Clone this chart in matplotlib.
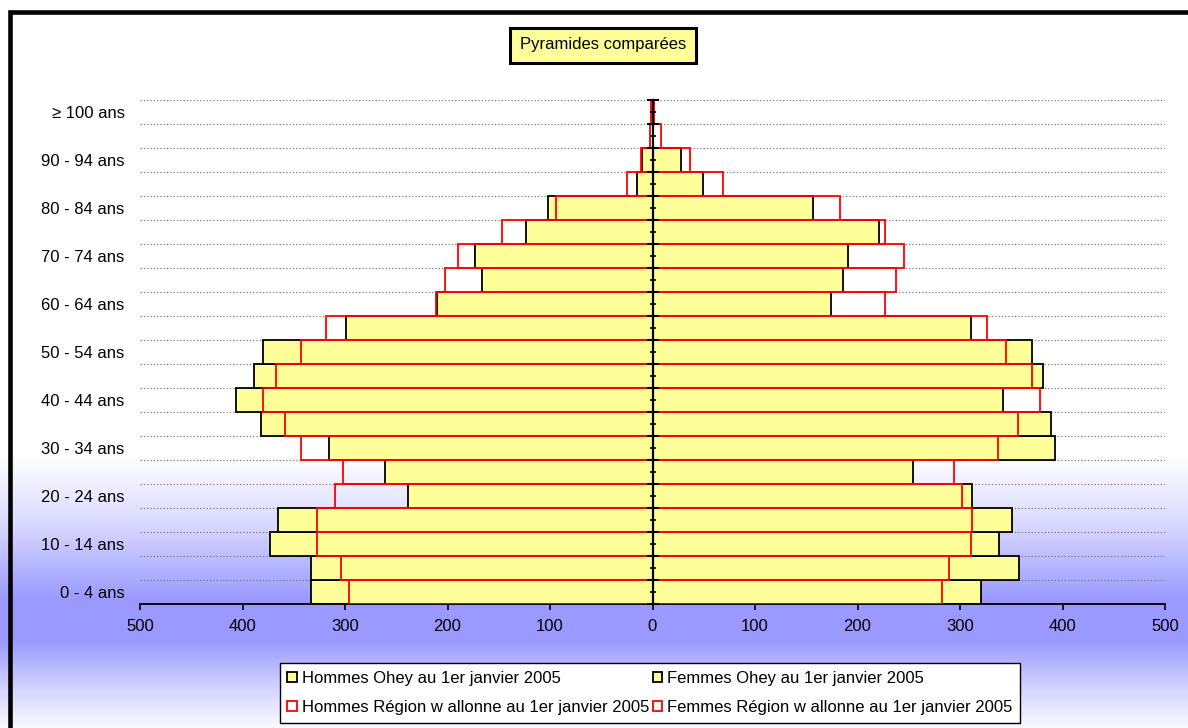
import numpy as np
import matplotlib
matplotlib.use("Agg")
import matplotlib.pyplot as plt
from matplotlib.patches import Rectangle

plt.rcParams['font.family'] = ['Liberation Sans', 'DejaVu Sans']

# --------- Données (du bas vers le haut) --------- #
ages = ["0 - 4 ans", "5 - 9 ans", "10 - 14 ans", "15 - 19 ans", "20 - 24 ans",
        "25 - 29 ans", "30 - 34 ans", "35 - 39 ans", "40 - 44 ans", "45 - 49 ans",
        "50 - 54 ans", "55 - 59 ans", "60 - 64 ans", "65 - 69 ans", "70 - 74 ans",
        "75 - 79 ans", "80 - 84 ans", "85 - 89 ans", "90 - 94 ans", "95 - 99 ans",
        "≥ 100 ans"]
hommes_ohey = [333, 333, 373, 365, 239, 261, 316, 382, 406, 389, 380, 299,
               210, 166, 173, 123, 102, 15, 10, 0, 0]
hommes_region = [296, 304, 327, 327, 310, 302, 343, 359, 380, 367, 343, 319,
                 211, 202, 190, 147, 94, 25, 11, 2, 1]
femmes_ohey = [320, 358, 338, 351, 312, 254, 393, 389, 342, 381, 370, 311,
               174, 186, 191, 221, 157, 49, 28, 0, 0]
femmes_region = [282, 289, 311, 312, 302, 294, 337, 357, 378, 370, 345, 326,
                 227, 238, 245, 227, 183, 69, 37, 8, 1]

lab_h_ohey = "Hommes Ohey au 1er janvier 2005"
lab_f_ohey = "Femmes Ohey au 1er janvier 2005"
lab_h_reg = "Hommes Région w allonne au 1er janvier 2005"
lab_f_reg = "Femmes Région w allonne au 1er janvier 2005"

W, H = 1188, 728
fig = plt.figure(figsize=(W / 100, H / 100), dpi=100)
fig.patch.set_facecolor('white')

# --------- Fond dégradé --------- #
bg = fig.add_axes([0, 0, 1, 1], zorder=-10)
rows = np.arange(H)
t = np.interp(rows, [0, 455, 520, 600, 640, 690, 728], [0, 0, 0.35, 1, 1, 0.4, 0.05])
blue = np.array([0.6, 0.6, 1.0])
grad = (1 - t)[:, None] * np.ones(3) + t[:, None] * blue
bg.imshow(np.repeat(grad[:, None, :], 2, axis=1), aspect='auto', extent=[0, 1, 0, 1])
bg.axis('off')

# --------- Cadre --------- #
fig.patches.append(Rectangle((9.7 / W, 1 - 1.2), 1.2, 1.2 - 11.7 / H, transform=fig.transFigure,
                             fill=False, ec='black', lw=3.3, clip_on=False))

# --------- Pyramide --------- #
ax = fig.add_axes([140 / W, 1 - 604 / H, 1025 / W, 504 / H])
ax.set_facecolor('none')
y = np.arange(len(ages))
ho = np.array(hommes_ohey)
hr = np.array(hommes_region)
fo = np.array(femmes_ohey)
fr = np.array(femmes_region)

b1 = ax.barh(y, -ho, height=1, color='#FFFF99', edgecolor='black', lw=1.3, label=lab_h_ohey, zorder=2)
b3 = ax.barh(y, fo, height=1, color='#FFFF99', edgecolor='black', lw=1.3, label=lab_f_ohey, zorder=2)
b2 = ax.barh(y, -hr, height=1, fill=False, edgecolor='red', lw=1.3, label=lab_h_reg, zorder=3)
b4 = ax.barh(y, fr, height=1, fill=False, edgecolor='red', lw=1.3, label=lab_f_reg, zorder=3)

ax.set_xlim(-500, 500)
ax.set_ylim(-0.5, len(ages) - 0.5)
xt = np.arange(-500, 501, 100)
ax.set_xticks(xt)
ax.set_xticklabels([str(abs(v)) for v in xt], fontsize=12)
ax.tick_params(axis='x', direction='out', length=4, width=1.2, pad=7)

ax.set_yticks(y[::2])
ax.set_yticklabels(ages[::2], fontsize=12)
bounds = np.arange(-0.5, len(ages), 1.0)
ax.set_yticks(bounds, minor=True)
ax.tick_params(axis='y', which='both', length=0, pad=11)
ax.grid(which='minor', axis='y', color='#7a7a7a', lw=0.9, ls=':')
ax.set_axisbelow(True)

for s in ['left', 'right', 'top']:
    ax.spines[s].set_visible(False)
ax.spines['bottom'].set_linewidth(1.3)

# axe central
sec = ax.secondary_yaxis(0.5)
sec.set_zorder(5)
sec.set_yticks(bounds)
sec.set_yticks(y, minor=True)
sec.tick_params(which='major', direction='inout', length=8, width=1.5, labelleft=False, labelright=False)
sec.tick_params(which='minor', direction='inout', length=5, width=1.2, labelleft=False, labelright=False)
for s in sec.spines.values():
    s.set_linewidth(1.6)

# --------- Légende --------- #
leg = fig.legend(handles=[b1, b2, b3, b4], ncol=2, loc='center',
                 bbox_to_anchor=(650 / W, 1 - 693 / H), fontsize=12,
                 frameon=True, fancybox=False, framealpha=1, edgecolor='black',
                 handlelength=0.55, handleheight=0.55, handletextpad=0.3,
                 columnspacing=0.25, labelspacing=0.85, borderpad=0.45, borderaxespad=0)
leg.get_frame().set_linewidth(1)

# --------- Titre --------- #
fig.text(603 / W, 1 - 45 / H, "Pyramides comparées", ha='center', va='center', fontsize=12,
         bbox=dict(boxstyle='square,pad=0.6', fc='#FFFF99', ec='black', lw=2.2))

fig.savefig("out.png", dpi=100)
